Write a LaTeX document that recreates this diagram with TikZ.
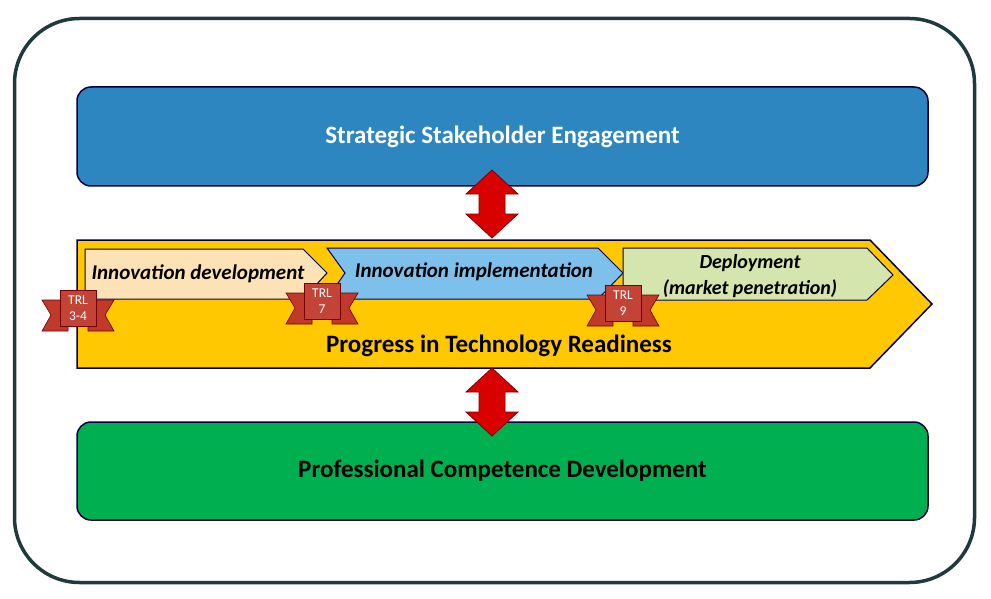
\documentclass[tikz,border=0pt]{standalone}
\usepackage{fontspec}
\setmainfont{Carlito}
\begin{document}
\begin{tikzpicture}[x=1pt,y=-1pt,
  bar/.style={draw=black!75!blue, line width=1.5pt, rounded corners=14pt},
  chev/.style={draw=black!60!blue, line width=1pt},
  big/.style={font=\fontsize{25}{28}\selectfont\bfseries},
  ctext/.style={font=\fontsize{21}{25}\selectfont\bfseries\itshape, align=center},
  ribbon/.style={fill=red!70!black!90, draw=red!45!black, line width=0.6pt},
  dbl/.style={fill=red!85!black, draw=red!50!black, line width=0.8pt}]
\useasboundingbox (0,0) rectangle (991,599);
\definecolor{blu}{RGB}{46,134,193}
\definecolor{grn}{RGB}{0,176,80}
\definecolor{yel}{RGB}{255,200,0}
\definecolor{c1}{RGB}{252,226,180}
\definecolor{c2}{RGB}{125,192,236}
\definecolor{c3}{RGB}{212,229,174}
\definecolor{rib}{RGB}{192,57,43}
\definecolor{frame}{RGB}{30,58,62}
% outer frame
\node[draw=frame, line width=3.5pt, rounded corners=65pt, minimum width=960pt, minimum height=564pt] (frame) at (494.5,300.5) {};
% bars
\node[bar, fill=blu, minimum width=851pt, minimum height=99pt, text=white, big] (sse) at (502.5,136.5) {Strategic Stakeholder Engagement};
\node[bar, fill=grn, minimum width=851pt, minimum height=98pt, big] (pcd) at (502.5,471) {Professional Competence Development};
% yellow arrow
\draw[fill=yel, draw=black!75!blue, line width=1.5pt] (77,240) -- (870,240) -- (932,304) -- (870,368) -- (77,368) -- cycle;
\node[big] (ptr) at (499,346) {Progress in Technology Readiness};
% chevrons
\draw[chev, fill=c1] (85,249) -- (303,249) -- (327,273) -- (303,299) -- (85,299) -- cycle;
\draw[chev, fill=c2] (327,248) -- (598,248) -- (623,273) -- (598,299) -- (327,299) -- (345,273) -- cycle;
\draw[chev, fill=c3] (623,248) -- (867,248) -- (893,275) -- (867,300) -- (623,300) -- (623,275) -- cycle;
\node[ctext] (c1t) at (198,274) {Innovation development};
\node[ctext] (c2t) at (474,272) {Innovation implementation};
\node[ctext, font=\fontsize{20}{26}\selectfont\bfseries\itshape] (c3t) at (750,276) {Deployment\\(market penetration)};
% ribbons
\foreach \n/\cx/\cy/\t in {r1/78/310/{TRL\\3-4}, r2/322/303/{TRL\\7}, r3/623/305/{TRL\\9}}{
  \draw[ribbon, fill=rib] (\cx-36,\cy-10) -- (\cx-10,\cy-10) -- (\cx-10,\cy+21) -- (\cx-36,\cy+21) -- (\cx-27,\cy+5) -- cycle;
  \draw[ribbon, fill=rib] (\cx+36,\cy-10) -- (\cx+10,\cy-10) -- (\cx+10,\cy+21) -- (\cx+36,\cy+21) -- (\cx+27,\cy+5) -- cycle;
  \node[ribbon, fill=rib!95!white, minimum width=36pt, minimum height=36pt, inner sep=1pt, text=white, align=center, font=\fontsize{13.5}{16}\selectfont] (\n) at (\cx,\cy-2) {\t};
}
% double arrows
\foreach \top/\bot in {170/238, 368/436}{
  \draw[dbl] (492,\top) -- (518,\top+24) -- (505,\top+24) -- (505,\bot-24) -- (518,\bot-24) -- (492,\bot) -- (466,\bot-24) -- (479,\bot-24) -- (479,\top+24) -- (466,\top+24) -- cycle;
}
\end{tikzpicture}
\end{document}
